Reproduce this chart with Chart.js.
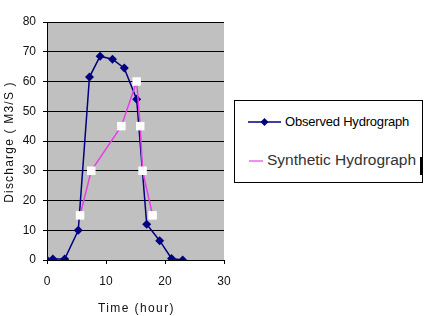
<!DOCTYPE html>
<html><head><meta charset="utf-8">
<script src="https://cdn.jsdelivr.net/npm/chart.js@4"></script>
<style>
html,body{margin:0;padding:0;background:#fff;}
#wrap{position:relative;width:425px;height:316px;overflow:hidden;}
#legend{position:absolute;left:234px;top:100px;width:189px;height:83px;border:1px solid #000;box-sizing:border-box;background:#fff;font-family:"Liberation Sans",Arial,sans-serif;color:#000;}
.row{position:absolute;white-space:nowrap;line-height:1;}
#cursor{position:absolute;left:185px;top:56px;width:2px;height:18px;background:#000;}
</style>
</head><body>
<div id="wrap">
<canvas id="c" width="425" height="316"></canvas>
<div id="legend">
  <canvas id="lg1" width="34" height="14" style="position:absolute;left:13px;top:14px"></canvas>
  <div class="row" style="top:14px;left:50px;font-size:13px;letter-spacing:-0.2px">Observed Hydrograph</div>
  <canvas id="lg2" width="18" height="14" style="position:absolute;left:13px;top:53px"></canvas>
  <div class="row" style="top:51px;left:32px;font-size:15.5px;color:#333">Synthetic Hydrograph</div>
  <div id="cursor"></div>
</div>
</div>
<script>
const obsTime = [0, 1, 3, 5.3, 7.2, 9, 11.1, 13.1, 15.2, 16.9, 19.1, 21.1, 23];
const obsQ    = [0, 0.3, 0.3, 10, 61.5, 68.5, 67.5, 64.5, 54, 12, 6.5, 0.5, 0];
const synTime = [5.6, 7.5, 12.6, 15.2, 15.8, 16.2, 17.9];
const synQ    = [15, 30, 45, 60, 45, 30, 15];
const xTicks = [0, 10, 20, 30];
const yTicks = [0, 10, 20, 30, 40, 50, 60, 70, 80];
const xTitle = 'Time (hour)';
const yTitle = 'Discharge ( M3/S )';

const NAVY = '#000080';
const PINK = '#e83ee8';
const FONT = 'Liberation Sans';

const bgPlugin = {
  id: 'bg',
  beforeDraw(chart) {
    const {ctx, chartArea: a} = chart;
    ctx.save();
    ctx.fillStyle = '#c0c0c0';
    ctx.fillRect(a.left, a.top, a.right - a.left, a.bottom - a.top);
    ctx.restore();
  },
  afterDraw(chart) {
    const {ctx, chartArea: a} = chart;
    ctx.save();
    ctx.fillStyle = '#111';
    ctx.font = '12px "' + FONT + '"';
    ctx.textAlign = 'center';
    ctx.textBaseline = 'middle';
    ctx.letterSpacing = '1.4px';
    ctx.fillText(xTitle, (a.left + a.right) / 2 + 1, 309);
    ctx.letterSpacing = '1.2px';
    ctx.translate(10, 142);
    ctx.rotate(-Math.PI / 2);
    ctx.fillText(yTitle, 0, 0);
    ctx.restore();
  }
};

new Chart(document.getElementById('c'), {
  type: 'scatter',
  data: {
    datasets: [
      {
        label: 'Synthetic Hydrograph',
        data: synTime.map((t, i) => ({x: t, y: synQ[i]})),
        showLine: true,
        borderColor: PINK,
        borderWidth: 1.5,
        pointStyle: 'rect',
        pointRadius: 6,
        pointBackgroundColor: '#ffffff',
        pointBorderColor: '#ffffff',
        pointBorderWidth: 0,
        order: 1
      },
      {
        label: 'Observed Hydrograph',
        data: obsTime.map((t, i) => ({x: t, y: obsQ[i]})),
        showLine: true,
        borderColor: NAVY,
        borderWidth: 1.5,
        pointStyle: 'rectRot',
        pointRadius: 4.5,
        pointBackgroundColor: NAVY,
        pointBorderColor: NAVY,
        pointBorderWidth: 0,
        order: 2
      }
    ]
  },
  options: {
    responsive: false,
    animation: false,
    events: [],
    layout: {padding: {left: 0, top: 22, right: 201, bottom: 0}},
    plugins: {legend: {display: false}, tooltip: {enabled: false}},
    scales: {
      x: {
        type: 'linear', min: 0, max: 30,
        afterBuildTicks(s) { s.ticks = xTicks.map(v => ({value: v})); },
        afterFit(s) { s.height = 56; },
        ticks: {color: '#111', font: {family: FONT, size: 12}, padding: 10},
        grid: {drawOnChartArea: false, drawTicks: true, tickLength: 4, color: '#000'},
        border: {color: '#000', width: 1},
        title: {display: false}
      },
      y: {
        type: 'linear', min: 0, max: 80,
        afterBuildTicks(s) { s.ticks = yTicks.map(v => ({value: v})); },
        afterFit(s) { s.width = 47; },
        ticks: {color: '#111', font: {family: FONT, size: 12}, padding: 7},
        grid: {color: '#000', lineWidth: 1, drawTicks: true, tickLength: 4},
        border: {color: '#000', width: 1},
        title: {display: false}
      }
    }
  },
  plugins: [bgPlugin]
});

(function(){
  const c1 = document.getElementById('lg1').getContext('2d');
  c1.strokeStyle = NAVY; c1.lineWidth = 1.5;
  c1.beginPath(); c1.moveTo(0, 7); c1.lineTo(33, 7); c1.stroke();
  c1.fillStyle = NAVY; c1.beginPath();
  c1.moveTo(16.5, 3); c1.lineTo(20.5, 7); c1.lineTo(16.5, 11); c1.lineTo(12.5, 7); c1.closePath(); c1.fill();
  const c2 = document.getElementById('lg2').getContext('2d');
  c2.strokeStyle = PINK; c2.lineWidth = 1.2;
  c2.beginPath(); c2.moveTo(1, 7); c2.lineTo(15, 7); c2.stroke();
})();
</script>
</body></html>
